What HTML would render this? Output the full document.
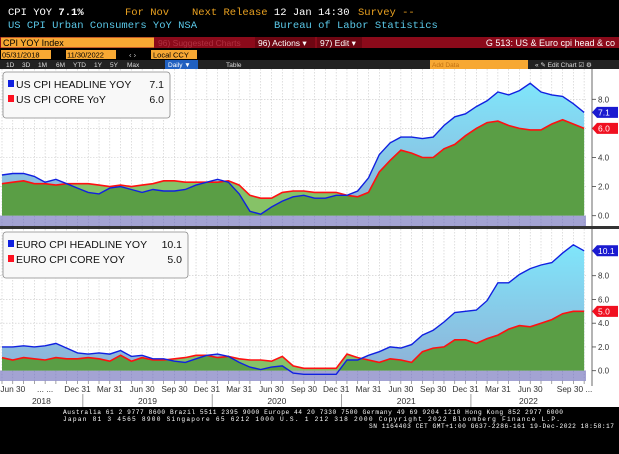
<!DOCTYPE html>
<html><head><meta charset="utf-8"><style>
body{margin:0;width:619px;height:449px;overflow:hidden;background:#000;font-family:"Liberation Sans",sans-serif}
</style></head><body>
<svg width="619" height="449" viewBox="0 0 619 449" xmlns="http://www.w3.org/2000/svg">
<defs>
<linearGradient id="bl" x1="0" y1="0" x2="0" y2="1"><stop offset="0" stop-color="#7fe6fb"/><stop offset="1" stop-color="#8fb0d6"/></linearGradient>
<clipPath id="c1"><path id="c1p"/></clipPath>
<clipPath id="c2"><path id="c2p"/></clipPath>
</defs>
<rect x="0" y="0" width="619" height="37" fill="#000"/>
<g font-size="10.5">
<text x="8" y="15" fill="#fff" font-family="Liberation Mono">CPI YOY  <tspan font-weight="bold">7.1%</tspan></text>
<text x="125" y="15" fill="#e8a020" font-family="Liberation Mono">For Nov</text>
<text x="192" y="15" fill="#e8a020" font-family="Liberation Mono">Next Release <tspan fill="#fff">12 Jan 14:30</tspan></text>
<text x="358" y="15" fill="#e8a020" font-family="Liberation Mono">Survey --</text>
<text x="8" y="28" fill="#5ac8e8" font-family="Liberation Mono">US CPI Urban Consumers YoY NSA</text>
<text x="274" y="28" fill="#5ac8e8" font-family="Liberation Mono">Bureau of Labor Statistics</text>
</g>
<rect x="0" y="37" width="619" height="11" fill="#8b0a1a"/>
<rect x="1" y="37.5" width="153" height="10" fill="#f7a833"/>
<text x="3" y="46" font-size="9" fill="#000">CPI YOY Index</text>
<text x="158" y="46" font-size="8.5" fill="#b03040">96) Suggested Charts</text>
<rect x="255" y="37" width="60" height="11" fill="#6e0612"/>
<text x="258" y="46" font-size="8.5" fill="#fff">96) Actions ▾</text>
<rect x="317" y="37" width="45" height="11" fill="#6e0612"/>
<text x="320" y="46" font-size="8.5" fill="#fff">97) Edit ▾</text>
<text x="615" y="46" font-size="9" fill="#fff" text-anchor="end">G 513: US &amp; Euro cpi head &amp; co</text>
<rect x="1" y="50" width="50" height="9" fill="#f7a833"/>
<text x="2" y="57.5" font-size="7.5" fill="#000">05/31/2018</text>
<rect x="66" y="50" width="50" height="9" fill="#f7a833"/>
<text x="67" y="57.5" font-size="7.5" fill="#000">11/30/2022</text>
<rect x="151" y="50" width="46" height="9" fill="#f7a833"/>
<text x="153" y="57.5" font-size="7.5" fill="#000">Local CCY</text>
<text x="129" y="57.5" font-size="7.5" fill="#ccc">‹ ›</text>
<rect x="0" y="60" width="619" height="9" fill="#222"/>
<g font-size="6.5" fill="#ddd">
<text x="6" y="67">1D</text><text x="22" y="67">3D</text><text x="38" y="67">1M</text><text x="56" y="67">6M</text><text x="73" y="67">YTD</text><text x="94" y="67">1Y</text><text x="110" y="67">5Y</text><text x="127" y="67">Max</text>
</g>
<rect x="165" y="60" width="33" height="9" fill="#2060c0"/>
<text x="168" y="67" font-size="6.5" fill="#fff">Daily ▼</text>
<text x="226" y="67" font-size="6.5" fill="#ddd">Table</text>
<rect x="430" y="60" width="98" height="9" fill="#f7a833"/>
<text x="432" y="67" font-size="6.5" fill="#c07010">Add Data</text>
<text x="535" y="67" font-size="6.5" fill="#ddd">« ✎ Edit Chart ☑ ⚙</text>
<rect x="0" y="69" width="619" height="338" fill="#fff"/>
<g id="panels"></g>
<rect x="0" y="226" width="619" height="3" fill="#333"/>
<g id="xaxis"></g>
<rect x="0" y="407" width="619" height="42" fill="#000"/>
<g font-family="Liberation Mono" font-size="6.2" fill="#fff">
<text x="63" y="414" textLength="500">Australia 61 2 9777 8600 Brazil 5511 2395 9000 Europe 44 20 7330 7500 Germany 49 69 9204 1210 Hong Kong 852 2977 6000</text>
<text x="63" y="421" textLength="497">Japan 81 3 4565 8900      Singapore 65 6212 1000      U.S. 1 212 318 2000      Copyright 2022 Bloomberg Finance L.P.</text>
<text x="369" y="428" textLength="245">SN 1164403 CET  GMT+1:00 G637-2286-161 19-Dec-2022 18:58:17</text>
</g>
</svg>
<script>
const months = 55;
const usHeadline = [2.8,2.9,2.9,2.7,2.3,2.5,2.2,1.9, 1.6,1.5,1.9,2.0,1.8,1.6,1.8,1.7,1.7,1.8,2.1,2.3, 2.5,2.3,1.5,0.3,0.1,0.6,1.0,1.3,1.4,1.2,1.2,1.4, 1.4,1.7,2.6,4.2,5.0,5.4,5.4,5.3,5.4,6.2,6.8,7.0, 7.5,7.9,8.5,8.3,8.6,9.1,8.5,8.3,8.2,7.7,7.1];
const usCore = [2.2,2.3,2.4,2.2,2.2,2.1,2.2,2.2, 2.2,2.1,2.0,2.1,2.0,2.1,2.2,2.4,2.4,2.3,2.3,2.3, 2.3,2.4,2.1,1.4,1.2,1.2,1.6,1.7,1.7,1.6,1.6,1.6, 1.4,1.3,1.6,3.0,3.8,4.5,4.3,4.0,4.0,4.6,4.9,5.5, 6.0,6.4,6.5,6.2,6.0,5.9,5.9,6.3,6.6,6.3,6.0];
const euHeadline = [2.0,2.0,2.1,2.0,2.1,2.3,1.9,1.5, 1.4,1.5,1.4,1.7,1.2,1.3,1.0,1.0,0.8,0.7,1.0,1.3, 1.4,1.2,0.7,0.3,0.1,0.3,0.4,-0.2,-0.3,-0.3,-0.3,-0.3, 0.9,0.9,1.3,1.6,2.0,1.9,2.2,3.0,3.4,4.1,4.9,5.0, 5.1,5.9,7.4,7.4,8.1,8.6,8.9,9.1,9.9,10.6,10.1];
const euCore = [1.1,0.9,1.1,1.0,0.9,1.1,1.0,1.0, 1.1,1.0,0.8,1.3,0.8,1.1,0.9,0.9,1.0,1.1,1.3,1.3, 1.1,1.2,1.0,0.9,0.9,0.8,1.2,0.4,0.2,0.2,0.2,0.2, 1.4,1.1,0.9,0.7,1.0,0.9,0.7,1.6,1.9,2.0,2.6,2.6, 2.3,2.7,3.0,3.5,3.8,3.7,4.0,4.3,4.8,5.0,5.0];
const topTicks = [0,2,4,6,8];
const botTicks = [0,2,4,6,8];
const quarterNames = ["Mar 31","Jun 30","Sep 30","Dec 31"];
const years = [2018,2019,2020,2021,2022];

const NS="http://www.w3.org/2000/svg";
function mk(tag,attrs,parent){const e=document.createElementNS(NS,tag);for(const k in attrs)e.setAttribute(k,attrs[k]);parent.appendChild(e);return e;}
const X = i => 2 + i*10.78;
const plotR = 586;
const panels = [
 {top:69,bot:226,y0:215.7,k:14.55,h:usHeadline,c:usCore,ticks:topTicks,name:"us",leg:["US CPI  HEADLINE YOY","US CPI CORE YoY"],vals:["7.1","6.0"],vx:164,lw:167,clip:"c1"},
 {top:229,bot:381,y0:370.7,k:11.875,h:euHeadline,c:euCore,ticks:botTicks,name:"euro",leg:["EURO CPI HEADLINE YOY","EURO CPI CORE YOY"],vals:["10.1","5.0"],vx:182,lw:185,clip:"c2"}
];
const pg=document.getElementById('panels');
panels.forEach(p=>{
  const Y=v=>p.y0 - v*p.k;
  const g=mk('g',{},pg);
  
  
  for(let i=0;i<months;i++){mk('line',{x1:X(i),x2:X(i),y1:p.top,y2:p.bot,stroke:'#c8c8c8','stroke-width':0.6,'stroke-dasharray':'1.5,1.5'},g);}
  p.ticks.forEach(t=>{mk('line',{x1:0,x2:plotR,y1:Y(t),y2:Y(t),stroke:'#c8c8c8','stroke-width':0.6,'stroke-dasharray':'1.5,1.5'},g);});
  const line=arr=>arr.map((v,i)=>(i?'L':'M')+X(i).toFixed(1)+','+Y(v).toFixed(1)).join('');
  const area=arr=>line(arr)+'L'+X(months-1)+','+Y(0)+'L'+X(0)+','+Y(0)+'Z';
  const ha=mk('path',{d:area(p.h),fill:'url(#bl)'},g);
  
  
  const ca=mk('path',{d:area(p.c),fill:'#86c267'},g);
  
  
  document.getElementById(p.clip+'p').setAttribute('d',area(p.c));
  mk('path',{d:area(p.h),fill:'#5a9e45','clip-path':'url(#'+p.clip+')'},g);
  mk('rect',{x:0,y:p.y0,width:plotR,height:p.bot-p.y0,fill:'#a3a3d3'},g);
  for(let i=0;i<months;i++){mk('line',{x1:X(i),x2:X(i),y1:p.y0,y2:p.bot,stroke:'#8a8ac0','stroke-width':0.6,'stroke-dasharray':'1.5,1.5'},g);}
  const cl=mk('path',{d:line(p.c),fill:'none',stroke:'#ff1010','stroke-width':1.6},g);
  
  
  const hl=mk('path',{d:line(p.h),fill:'none',stroke:'#1020e0','stroke-width':1.4},g);
  
  
  mk('rect',{x:plotR,y:p.top,width:619-plotR,height:p.bot-p.top,fill:'#fff'},g);
  mk('line',{x1:592,x2:592,y1:p.top,y2:p.bot,stroke:'#444','stroke-width':0.8},g);
  p.ticks.forEach(t=>{
    mk('line',{x1:592,x2:596,y1:Y(t),y2:Y(t),stroke:'#444','stroke-width':0.8},g);
    const tx=mk('text',{x:598,y:Y(t)+3,'font-size':8,fill:'#333'},g);tx.textContent=t.toFixed(1);
    
    
  });
  [[p.h,'#1a1ad0'],[p.c,'#f01020']].forEach(([arr,col])=>{
    const v=arr[months-1], y=Y(v);
    mk('path',{d:`M592,${y}L597,${y-5.5}H618V${y+5.5}H597Z`,fill:col},g);
    const tt=mk('text',{x:598,y:y+3,'font-size':8.5,fill:'#fff'},g);tt.textContent=v.toFixed(1);
    
    
  });
  const lg=mk('g',{},g);
  
  
  mk('rect',{x:3,y:p.top+3,width:p.lw,height:46,rx:3,fill:'#f8f8f8',stroke:'#888','stroke-width':0.8},lg);
  [['#1020e0',0],['#ff1020',1]].forEach(([col,j])=>{
    const yy=p.top+19+j*15;
    mk('rect',{x:8,y:yy-8,width:6,height:7,fill:col},lg);
    const t=mk('text',{x:16,y:yy,'font-size':10.5,fill:'#111'},lg);t.textContent=p.leg[j];
    
    
    const tv=mk('text',{x:p.vx,y:yy,'font-size':10.5,fill:'#111','text-anchor':'end'},lg);tv.textContent=p.vals[j];
    
    
  });
});
const xa=document.getElementById('xaxis');
mk('line',{x1:592,x2:592,y1:381,y2:386,stroke:'#444','stroke-width':0.8},xa);
for(let i=0;i<months;i++){
  const mo=(i+4)%12;
  if(mo%3===2){
    let lab=quarterNames[(mo-2)/3];
    if(i===4) lab="... ...";
    if(i===52) lab="Sep 30 ...";
    const t=mk('text',{x:X(i)+(i===52?12:0),y:392,'font-size':8.3,fill:'#333','text-anchor':'middle'},xa);t.textContent=lab;
    
    
  }
  mk('line',{x1:X(i),x2:X(i),y1:381,y2:384,stroke:'#666','stroke-width':0.6},xa);
}
years.forEach((yr,j)=>{
  const s=j===0?0:X(8+12*(j-1))-5.4, e=Math.min(X(8+12*j)-5.4,586);
  if(j>0) mk('line',{x1:s,x2:s,y1:394,y2:407,stroke:'#888','stroke-width':0.8},xa);
  const t=mk('text',{x:(s+e)/2,y:404,'font-size':8.5,fill:'#333','text-anchor':'middle'},xa);t.textContent=yr;
  
  
});
</script>
</body></html>
